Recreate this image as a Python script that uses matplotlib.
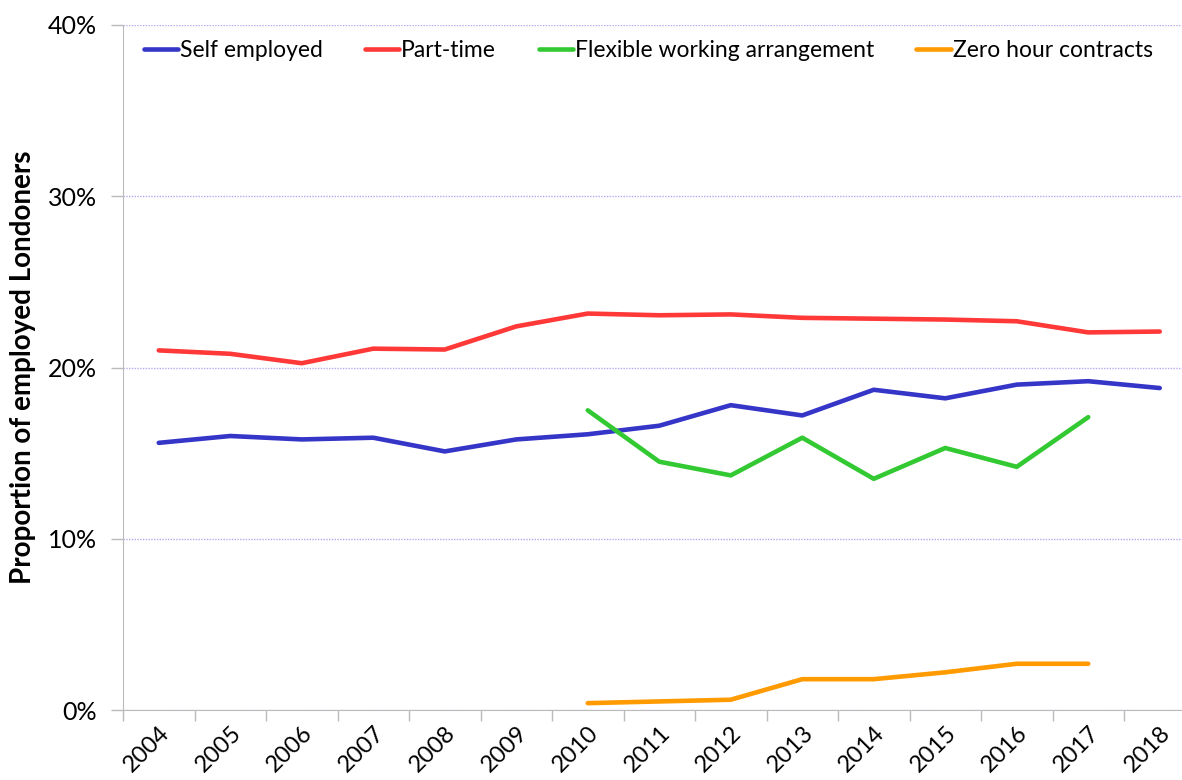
import numpy as np
import matplotlib.pyplot as plt
from matplotlib.ticker import FixedLocator, PercentFormatter

plt.rcParams['font.family'] = ['Lato', 'DejaVu Sans']

years = list(range(2004, 2019))
years_new = list(range(2010, 2018))

self_employed = [15.6, 16.0, 15.8, 15.9, 15.1, 15.8, 16.1, 16.6, 17.8, 17.2, 18.7, 18.2, 19.0, 19.2, 18.8]
part_time = [21.0, 20.8, 20.25, 21.1, 21.05, 22.4, 23.15, 23.05, 23.1, 22.9, 22.85, 22.8, 22.7, 22.05, 22.1]
flexible = [17.5, 14.5, 13.7, 15.9, 13.5, 15.3, 14.2, 17.1]
zero_hour = [0.4, 0.5, 0.6, 1.8, 1.8, 2.2, 2.7, 2.7]

fig = plt.figure(figsize=(11.82, 7.8), dpi=100)
ax = fig.add_axes([123/1182, 1 - 710/780, 1 - 123/1182, (710 - 25)/780])

x_all = np.arange(len(years))
x_new = np.array([years.index(y) for y in years_new])

ax.plot(x_all, self_employed, color="#3535c8", lw=3.3, solid_capstyle="round", label="Self employed")
ax.plot(x_all, part_time, color="#ff3838", lw=3.3, solid_capstyle="round", label="Part-time")
ax.plot(x_new, flexible, color="#33c933", lw=3.3, solid_capstyle="round", label="Flexible working arrangement")
ax.plot(x_new, zero_hour, color="#ff9a00", lw=3.3, solid_capstyle="round", label="Zero hour contracts")

ax.set_ylim(0, 40)
ax.set_xlim(-0.5, (1182 - 123) / 71.5 - 0.5)
ax.set_yticks([0, 10, 20, 30, 40])
ax.yaxis.set_major_formatter(PercentFormatter(decimals=0))
ax.grid(axis="y", color="#b9a8f0", linestyle=(0, (1, 1)), lw=1)
ax.set_axisbelow(True)

ax.set_xticks(x_all)
ax.set_xticklabels([str(y) for y in years], rotation=45, ha="right", va="top",
                   rotation_mode="anchor")
ax.xaxis.set_minor_locator(FixedLocator(np.arange(-0.5, 15, 1)))
ax.tick_params(axis="x", which="major", length=0, pad=9, labelsize=17)
ax.tick_params(axis="x", which="minor", length=8, color="#bbbbbb", width=1)
ax.tick_params(axis="y", length=9, color="#bbbbbb", width=1, labelsize=18, pad=10)

for s in ["top", "right"]:
    ax.spines[s].set_visible(False)
for s in ["left", "bottom"]:
    ax.spines[s].set_color("#bbbbbb")

ax.set_ylabel("Proportion of employed Londoners", fontsize=20, fontweight="bold", labelpad=8)

ax.legend(loc="upper left", ncol=4, frameon=False, fontsize=16.5, handlelength=1.5,
          handletextpad=0.08, columnspacing=1.85, bbox_to_anchor=(0.0, 1.008))

fig.savefig("out.png", dpi=100)
